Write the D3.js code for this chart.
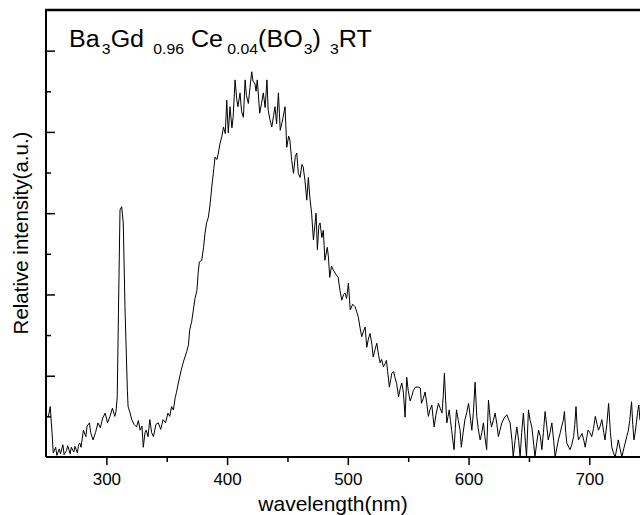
<!DOCTYPE html>
<html>
<head>
<meta charset="utf-8">
<script src="https://cdn.jsdelivr.net/npm/d3@7"></script>
<style>
html,body{margin:0;padding:0;background:#fff;}
svg{display:block;}
text{font-family:"Liberation Sans",Arial,sans-serif;fill:#000;}
</style>
</head>
<body>
<svg id="chart" width="640" height="515"></svg>
<script>
// Wavelength (nm) and relative intensity (a.u.)
const wavelengths = [
250,252,253.5,255,256,258,259,261,262,264,265,267,268,270,271,273,274,276,277,278,
279,281,283,284,286,287,289,291,293,295,297,299,301,303,305,307,308,309,310,311.3,
312.7,314,315.4,317.4,318,319.5,321,323,325,326.5,328,329.5,330.6,332,333,334.5,336,337.5,339,341,
343,345,347,349,351,352.5,354,355.5,357,358,359.6,362,364,366.6,368,369,370.7,373.4,375,376,
377,379,380.5,381.7,383,384.5,386,387.3,389,390,391.5,392.8,394,395.6,397,398.5,399.7,401,402.4,404,
405,406.6,408,409,410.7,412,413.5,414.9,416,417.6,419,420.4,421.5,423,424,425,427,428.5,430,431.5,
433,434,435.5,437,438.5,439.7,441,442.5,444,446,448,449.4,451,452,453.5,455,456.5,457.7,459,460.4,
462,463,464.5,466,467.3,468.5,470,471.5,473.7,474.8,476,477,478.5,479.7,481,483,484,485,486.5,488,
490,492,493.5,495,496.5,497.7,499,500.5,502,504,506,507.5,508.7,510,511.5,513,514.3,515.7,517,518.4,
520,521,522.5,524,525.5,526.7,528,529.5,531,532,533,534.4,535.5,536.4,538,539,540.5,542,543.5,544.7,
546,547.4,548.8,550,551.6,553,554.3,556,558.4,560,561,562.5,564,565.5,566.7,568,569.6,570.5,571.5,573,
575,576.5,578,579,580,581,582,583,584,585,586,587,588,589,590,591.5,593,594,595.5,597,
598.5,600,601.5,602.7,604,605.4,606.8,608,609.6,611,612.3,613.5,615,616.5,618,619,620.5,622,623.5,624.7,
626,627.6,629.5,631.7,633,634.4,636,637,638.5,640,641.5,642.7,644,645.4,647,648,649.6,651,652.4,654,
655,656.5,658,659.5,660.7,662,663.4,665,666,667.5,669,670.5,671.7,673,674.4,676,677,678.5,679.4,680.5,
681.4,683,684,685.5,687,688,689,690,691,692.5,694,695.5,696.6,698,699,700.5,702,703.5,705,706.5,
707.6,709,710.4,712,713,714.5,716,717.5,718.7,720,721.4,723,724,725.5,727,728.5,729.7,731,732.4,733.5,
735,736,737,738,739,740,741,742
];
const intensity = [
0.50,0.50,0.62,0.30,0.05,0.12,0.02,0.10,0.04,0.15,0.03,0.08,0.14,0.04,0.12,0.06,0.13,0.05,0.15,0.17,
0.12,0.33,0.25,0.38,0.42,0.30,0.21,0.30,0.42,0.36,0.48,0.54,0.42,0.50,0.60,0.50,0.56,0.74,1.77,3.04,
3.08,2.88,1.85,0.82,0.62,0.55,0.46,0.40,0.37,0.45,0.33,0.38,0.12,0.30,0.33,0.25,0.46,0.30,0.25,0.40,
0.42,0.34,0.46,0.42,0.54,0.50,0.62,0.58,0.73,0.79,0.91,1.07,1.18,1.30,1.38,1.56,1.67,1.95,2.05,2.26,
2.40,2.42,2.58,2.75,2.88,2.95,3.12,3.32,3.55,3.69,3.66,3.74,3.85,3.94,4.06,3.98,4.39,3.99,4.31,4.05,
4.18,4.64,4.40,4.31,4.48,4.25,4.18,4.64,4.45,4.35,4.55,4.74,4.62,4.60,4.50,4.64,4.23,4.35,4.48,4.30,
4.64,4.27,4.15,4.06,4.20,4.31,4.10,4.48,4.02,4.15,4.31,3.81,3.95,3.90,3.65,3.49,3.70,3.74,3.49,3.44,
3.60,3.57,3.40,3.16,3.44,3.20,3.00,2.67,3.00,2.55,2.85,2.88,2.70,2.79,2.42,2.58,2.45,2.21,2.35,2.30,
2.25,2.21,2.05,1.93,2.00,2.02,1.95,2.14,1.81,1.88,1.85,1.78,1.72,1.60,1.48,1.55,1.60,1.35,1.45,1.52,
1.38,1.23,1.32,1.40,1.25,1.16,1.20,1.11,1.15,1.19,1.05,0.86,0.95,1.03,1.05,0.98,0.90,0.74,0.85,0.91,
0.80,0.49,0.98,0.82,0.69,0.75,0.82,0.86,0.86,0.85,0.66,0.72,0.80,0.65,0.50,0.58,0.64,0.50,0.37,0.52,
0.66,0.60,0.54,0.75,1.03,0.70,0.42,0.50,0.58,0.45,0.33,0.20,0.09,0.35,0.58,0.45,0.33,0.12,0.30,0.46,
0.55,0.66,0.48,0.33,0.55,0.92,0.50,0.35,0.21,0.30,0.42,0.25,0.09,0.70,0.45,0.37,0.45,0.54,0.40,0.25,
0.33,0.42,0.48,0.52,0.47,0.42,0.20,0.00,0.20,0.37,0.20,0.00,0.30,0.54,0.20,0.00,0.58,0.45,0.37,0.15,
0.00,0.18,0.33,0.25,0.09,0.30,0.56,0.35,0.21,0.30,0.42,0.20,0.00,0.10,0.21,0.30,0.37,0.45,0.56,0.30,
0.17,0.12,0.09,0.15,0.25,0.40,0.62,0.35,0.21,0.25,0.29,0.20,0.12,0.25,0.33,0.30,0.25,0.35,0.50,0.40,
0.33,0.38,0.46,0.30,0.21,0.40,0.66,0.30,0.12,0.05,0.00,0.12,0.21,0.10,0.00,0.10,0.17,0.25,0.33,0.45,
0.68,0.40,0.21,0.30,0.42,0.55,0.64,0.45
];
const xMajorTicks = [300, 400, 500, 600, 700];
const xMinorTicks = [350, 450, 550, 650];
const yMajorTicks = [1, 2, 3, 4, 5];
const yMinorTicks = [0.5, 1.5, 2.5, 3.5, 4.5];
const xDomain = [250, 742];
const yDomain = [0, 5.5];
const xTitle = "wavelength(nm)";
const yTitle = "Relative intensity(a.u.)";
// Title pieces: [text, isSubscript]
const titleParts = [
  ["Ba", false], ["3", true], ["Gd ", false], ["0.96", true], [" Ce", false],
  ["0.04", true], ["(BO", false], ["3", true], [") ", false], ["3", true], ["RT", false]
];

const svg = d3.select("#chart");
const pL = 46, pR = 640, pT = 10, pB = 457;
const x = d3.scaleLinear().domain(xDomain).range([pL, pR]);
const y = d3.scaleLinear().domain(yDomain).range([pB, pT]);

const data = wavelengths.map((w, i) => ({w, v: intensity[i]}));

// data line
svg.append("path")
  .datum(data)
  .attr("fill", "none")
  .attr("stroke", "#000")
  .attr("stroke-width", 1)
  .attr("d", d3.line().x(d => x(d.w)).y(d => y(d.v)));

// x axis (ticks outward)
const gx = svg.append("g").attr("transform", `translate(0,${pB})`)
  .call(d3.axisBottom(x).tickValues(xMajorTicks).tickSize(8).tickPadding(8).tickFormat(d3.format("d")));
gx.select(".domain").attr("stroke-width", 2).attr("d", `M${pL},0H${pR}`);
gx.selectAll(".tick line").attr("stroke-width", 1.5);
gx.selectAll(".tick text").attr("font-size", 17).attr("font-family", "Liberation Sans, Arial, sans-serif");
const gxm = svg.append("g").attr("transform", `translate(0,${pB})`)
  .call(d3.axisBottom(x).tickValues(xMinorTicks).tickSize(5).tickFormat(""));
gxm.select(".domain").remove();
gxm.selectAll(".tick line").attr("stroke-width", 1.5);

// y axis (ticks inward, no labels)
const gy = svg.append("g").attr("transform", `translate(${pL},0)`)
  .call(d3.axisLeft(y).tickValues(yMajorTicks).tickSize(-9).tickFormat(""));
gy.select(".domain").attr("stroke-width", 2).attr("d", `M0,${pT}V${pB}`);
gy.selectAll(".tick line").attr("stroke-width", 1.5);
const gym = svg.append("g").attr("transform", `translate(${pL},0)`)
  .call(d3.axisLeft(y).tickValues(yMinorTicks).tickSize(-5).tickFormat(""));
gym.select(".domain").remove();
gym.selectAll(".tick line").attr("stroke-width", 1.5);

// top frame line
svg.append("line").attr("x1", pL - 1).attr("x2", pR).attr("y1", pT).attr("y2", pT)
  .attr("stroke", "#000").attr("stroke-width", 2.5);

// axis titles
svg.append("text").attr("x", 333).attr("y", 511).attr("text-anchor", "middle")
  .attr("font-size", 21).text(xTitle);
svg.append("text").attr("transform", "translate(28,233) rotate(-90)").attr("text-anchor", "middle")
  .attr("font-size", 20.5).text(yTitle);

// in-plot title with subscripts, flowing, then stretched to the reference width
const titleX = 69, titleW = 303;
const subGap = [2, 2, 4, 1, 2];
const title = svg.append("text").attr("x", titleX).attr("y", 47)
  .attr("font-size", 23).style("white-space", "pre");
let si = 0;
titleParts.forEach((p) => {
  const t = title.append("tspan").attr("y", p[1] ? 54 : 47)
    .attr("font-size", p[1] ? 14.5 : 23).text(p[0]);
  if (p[1]) t.attr("dx", subGap[si++]);
});
const tw = title.node().getBBox().width;
const sx = Math.min(1.25, Math.max(0.9, titleW / tw));
title.attr("transform", `translate(${titleX},0) scale(${sx},1) translate(${-titleX},0)`);
</script>
</body>
</html>
